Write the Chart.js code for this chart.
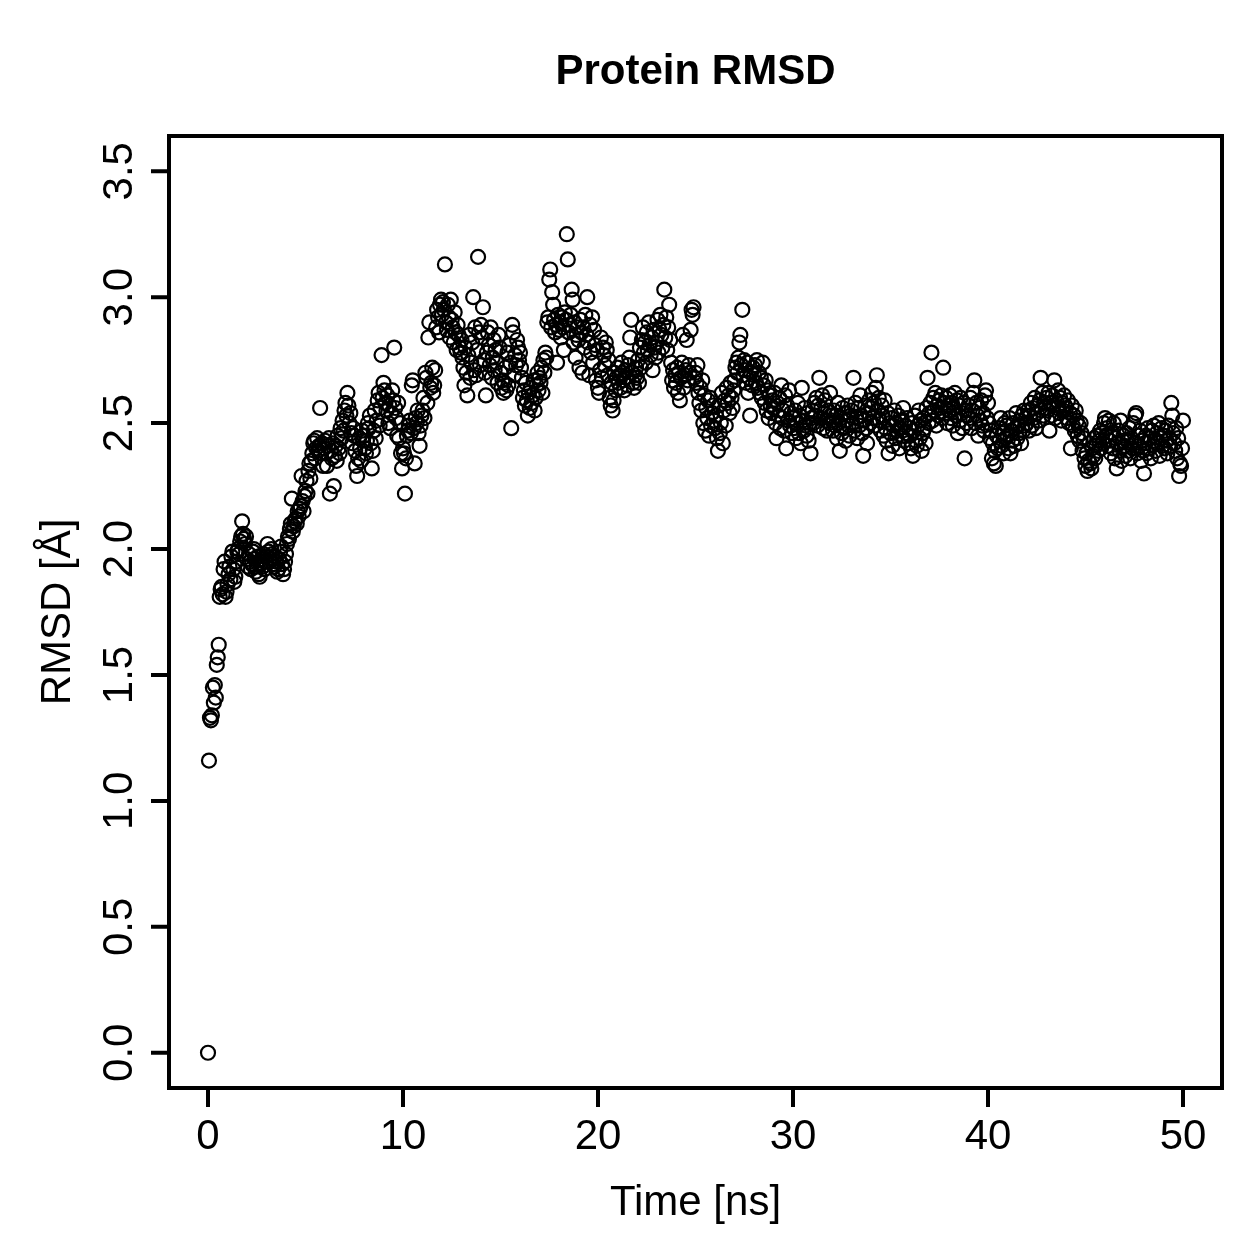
<!DOCTYPE html>
<html>
<head>
<meta charset="utf-8">
<title>Protein RMSD</title>
<script src="https://cdn.jsdelivr.net/npm/chart.js@4.4.0/dist/chart.umd.min.js"></script>
<style>
  html, body { margin: 0; padding: 0; background: #ffffff; }
  canvas { display: block; }
</style>
</head>
<body>
<canvas id="rmsd-chart" width="1259" height="1259"></canvas>
<script>
const chartTitle = "Protein RMSD";
const xTitle = "Time [ns]";
const yTitle = "RMSD [Å]";

const xTicks = [0, 10, 20, 30, 40, 50];
const xTickLabels = ["0", "10", "20", "30", "40", "50"];
const yTicks = [0, 0.5, 1, 1.5, 2, 2.5, 3, 3.5];
const yTickLabels = ["0.0", "0.5", "1.0", "1.5", "2.0", "2.5", "3.0", "3.5"];

// trajectory frames are saved every 0.05 ns
const frameStep = 0.05;

// RMSD per frame, one row per nanosecond
const rmsd = [
  0.00, 1.16, 1.33, 1.32, 1.34, 1.45, 1.39, 1.46, 1.41, 1.54, 1.57, 1.62, 1.81, 1.84, 1.85, 1.82, 1.92, 1.95, 1.81, 1.83,
  1.86, 1.90, 1.93, 1.88, 1.97, 1.99, 1.92, 1.87, 1.89, 1.95, 1.99, 2.00, 1.98, 2.03, 2.05, 2.11, 2.06, 2.04, 2.02, 2.05,
  1.96, 1.93, 1.98, 1.95, 1.92, 1.94, 1.99, 2.00, 1.96, 1.91, 1.93, 1.97, 1.90, 1.89, 1.94, 1.96, 1.93, 1.98, 1.92, 1.95,
  1.97, 2.02, 1.99, 1.95, 1.96, 2.00, 1.98, 1.94, 1.93, 1.97, 1.95, 1.91, 1.92, 1.96, 1.99, 2.01, 1.94, 1.90, 1.92, 1.95,
  1.98, 2.02, 2.05, 2.04, 2.08, 2.10, 2.20, 2.07, 2.09, 2.11, 2.12, 2.10, 2.15, 2.13, 2.16, 2.17, 2.29, 2.19, 2.15, 2.21,
  2.23, 2.27, 2.22, 2.31, 2.34, 2.28, 2.35, 2.38, 2.42, 2.43, 2.36, 2.40, 2.44, 2.39, 2.41, 2.56, 2.38, 2.42, 2.33, 2.40,
  2.43, 2.38, 2.33, 2.41, 2.44, 2.22, 2.39, 2.36, 2.42, 2.25, 2.37, 2.41, 2.35, 2.45, 2.40, 2.38, 2.48, 2.44, 2.51, 2.47,
  2.55, 2.58, 2.53, 2.62, 2.57, 2.50, 2.54, 2.46, 2.42, 2.48, 2.45, 2.39, 2.33, 2.29, 2.36, 2.44, 2.40, 2.35, 2.47, 2.43,
  2.45, 2.40, 2.38, 2.43, 2.50, 2.48, 2.53, 2.42, 2.32, 2.39, 2.47, 2.55, 2.44, 2.51, 2.59, 2.62, 2.49, 2.56, 2.77, 2.60,
  2.66, 2.63, 2.58, 2.55, 2.61, 2.50, 2.57, 2.48, 2.54, 2.63, 2.59, 2.80, 2.56, 2.52, 2.45, 2.58, 2.44, 2.50, 2.38, 2.32,
  2.40, 2.38, 2.22, 2.36, 2.45, 2.47, 2.49, 2.51, 2.46, 2.65, 2.67, 2.48, 2.34, 2.52, 2.50, 2.55, 2.46, 2.41, 2.49, 2.53,
  2.55, 2.60, 2.52, 2.70, 2.68, 2.58, 2.84, 2.90, 2.64, 2.66, 2.72, 2.62, 2.65, 2.71, 2.88, 2.95, 2.92, 2.86, 2.97, 2.99,
  2.93, 2.98, 2.95, 3.13, 2.90, 2.87, 2.97, 2.92, 2.84, 2.99, 2.91, 2.88, 2.82, 2.94, 2.86, 2.79, 2.89, 2.85, 2.80, 2.78,
  2.83, 2.76, 2.72, 2.65, 2.80, 2.70, 2.61, 2.77, 2.85, 2.68, 2.74, 2.82, 3.00, 2.71, 2.88, 2.69, 2.79, 3.16, 2.86, 2.73,
  2.89, 2.84, 2.96, 2.75, 2.70, 2.61, 2.78, 2.86, 2.81, 2.73, 2.88, 2.68, 2.76, 2.83, 2.71, 2.79, 2.74, 2.66, 2.85, 2.80,
  2.70, 2.64, 2.67, 2.62, 2.66, 2.72, 2.63, 2.78, 2.65, 2.81, 2.74, 2.48, 2.89, 2.86, 2.69, 2.77, 2.73, 2.83, 2.80, 2.75,
  2.78, 2.72, 2.68, 2.60, 2.63, 2.57, 2.66, 2.59, 2.53, 2.62, 2.56, 2.64, 2.58, 2.61, 2.67, 2.55, 2.60, 2.65, 2.70, 2.63,
  2.68, 2.66, 2.72, 2.62, 2.75, 2.70, 2.78, 2.76, 2.90, 2.92, 3.07, 3.11, 2.88, 3.02, 2.97, 2.91, 2.86, 2.89, 2.74, 2.93,
  2.87, 2.90, 2.84, 2.92, 2.88, 2.79, 2.94, 2.91, 3.25, 3.15, 2.86, 2.89, 2.93, 3.03, 2.99, 2.82, 2.90, 2.76, 2.85, 2.88,
  2.83, 2.72, 2.91, 2.86, 2.70, 2.88, 2.80, 2.93, 2.85, 3.00, 2.82, 2.69, 2.89, 2.78, 2.92, 2.74, 2.87, 2.81, 2.67, 2.79,
  2.64, 2.62, 2.71, 2.84, 2.68, 2.80, 2.77, 2.73, 2.82, 2.79, 2.69, 2.75, 2.60, 2.57, 2.66, 2.55, 2.59, 2.70, 2.63, 2.68,
  2.72, 2.66, 2.69, 2.64, 2.74, 2.70, 2.67, 2.63, 2.71, 2.68, 2.65, 2.73, 2.76, 2.84, 2.91, 2.70, 2.66, 2.64, 2.69, 2.72,
  2.68, 2.75, 2.66, 2.80, 2.72, 2.83, 2.88, 2.78, 2.82, 2.74, 2.86, 2.79, 2.90, 2.81, 2.77, 2.84, 2.71, 2.87, 2.80, 2.76,
  2.82, 2.91, 2.78, 2.87, 2.93, 2.85, 2.80, 2.89, 3.03, 2.84, 2.92, 2.79, 2.88, 2.97, 2.83, 2.74, 2.67, 2.71, 2.64, 2.69,
  2.66, 2.72, 2.62, 2.70, 2.59, 2.68, 2.74, 2.85, 2.64, 2.69, 2.71, 2.83, 2.67, 2.73, 2.70, 2.87, 2.95, 2.93, 2.96, 2.68,
  2.70, 2.66, 2.73, 2.62, 2.58, 2.64, 2.55, 2.67, 2.50, 2.61, 2.47, 2.56, 2.52, 2.59, 2.45, 2.60, 2.49, 2.54, 2.57, 2.51,
  2.48, 2.53, 2.44, 2.39, 2.57, 2.46, 2.50, 2.62, 2.42, 2.55, 2.59, 2.49, 2.64, 2.58, 2.61, 2.54, 2.66, 2.60, 2.56, 2.63,
  2.67, 2.72, 2.74, 2.70, 2.76, 2.82, 2.85, 2.73, 2.95, 2.69, 2.75, 2.71, 2.66, 2.74, 2.62, 2.68, 2.53, 2.70, 2.65, 2.72,
  2.69, 2.73, 2.66, 2.75, 2.64, 2.70, 2.62, 2.68, 2.60, 2.74, 2.65, 2.58, 2.67, 2.55, 2.63, 2.52, 2.61, 2.57, 2.54, 2.59,
  2.56, 2.62, 2.50, 2.44, 2.58, 2.53, 2.60, 2.48, 2.65, 2.52, 2.55, 2.47, 2.61, 2.40, 2.57, 2.51, 2.63, 2.49, 2.54, 2.46,
  2.52, 2.48, 2.55, 2.44, 2.50, 2.58, 2.46, 2.53, 2.42, 2.64, 2.51, 2.47, 2.56, 2.49, 2.45, 2.54, 2.43, 2.50, 2.38, 2.52,
  2.55, 2.50, 2.58, 2.53, 2.60, 2.49, 2.57, 2.68, 2.52, 2.56, 2.61, 2.48, 2.54, 2.59, 2.51, 2.47, 2.55, 2.50, 2.62, 2.53,
  2.51, 2.47, 2.55, 2.49, 2.53, 2.44, 2.58, 2.50, 2.39, 2.52, 2.46, 2.56, 2.48, 2.54, 2.43, 2.51, 2.57, 2.49, 2.45, 2.53,
  2.55, 2.50, 2.68, 2.47, 2.58, 2.52, 2.44, 2.56, 2.49, 2.61, 2.53, 2.46, 2.37, 2.51, 2.57, 2.48, 2.42, 2.54, 2.59, 2.50,
  2.56, 2.62, 2.52, 2.58, 2.49, 2.64, 2.69, 2.55, 2.60, 2.51, 2.47, 2.57, 2.53, 2.45, 2.59, 2.48, 2.43, 2.54, 2.38, 2.50,
  2.46, 2.52, 2.41, 2.49, 2.55, 2.44, 2.50, 2.47, 2.53, 2.40, 2.48, 2.51, 2.45, 2.56, 2.43, 2.49, 2.46, 2.52, 2.42, 2.48,
  2.45, 2.40, 2.50, 2.37, 2.47, 2.53, 2.43, 2.41, 2.49, 2.55, 2.44, 2.51, 2.39, 2.46, 2.52, 2.48, 2.42, 2.56, 2.68, 2.50,
  2.54, 2.58, 2.78, 2.51, 2.60, 2.55, 2.62, 2.49, 2.57, 2.53, 2.59, 2.56, 2.61, 2.52, 2.72, 2.58, 2.54, 2.60, 2.50, 2.57,
  2.55, 2.61, 2.52, 2.58, 2.49, 2.56, 2.62, 2.53, 2.59, 2.46, 2.57, 2.51, 2.60, 2.54, 2.48, 2.58, 2.36, 2.55, 2.50, 2.53,
  2.57, 2.52, 2.60, 2.48, 2.55, 2.62, 2.67, 2.50, 2.58, 2.53, 2.45, 2.56, 2.51, 2.59, 2.49, 2.54, 2.47, 2.61, 2.63, 2.52,
  2.58, 2.50, 2.44, 2.47, 2.36, 2.42, 2.34, 2.39, 2.33, 2.45, 2.40, 2.48, 2.43, 2.52, 2.41, 2.46, 2.38, 2.50, 2.44, 2.49,
  2.45, 2.40, 2.52, 2.38, 2.47, 2.43, 2.50, 2.41, 2.48, 2.54, 2.44, 2.49, 2.46, 2.51, 2.42, 2.53, 2.47, 2.55, 2.49, 2.52,
  2.50, 2.55, 2.47, 2.53, 2.58, 2.49, 2.56, 2.52, 2.60, 2.48, 2.54, 2.57, 2.51, 2.59, 2.68, 2.55, 2.62, 2.53, 2.58, 2.56,
  2.60, 2.55, 2.62, 2.47, 2.58, 2.53, 2.61, 2.57, 2.67, 2.52, 2.59, 2.56, 2.63, 2.54, 2.60, 2.51, 2.58, 2.55, 2.61, 2.57,
  2.56, 2.52, 2.59, 2.50, 2.54, 2.40, 2.57, 2.49, 2.53, 2.47, 2.55, 2.51, 2.45, 2.49, 2.43, 2.50, 2.46, 2.39, 2.44, 2.36,
  2.33, 2.38, 2.31, 2.35, 2.42, 2.34, 2.32, 2.40, 2.37, 2.44, 2.36, 2.41, 2.45, 2.39, 2.43, 2.47, 2.40, 2.46, 2.42, 2.50,
  2.52, 2.45, 2.48, 2.41, 2.51, 2.43, 2.38, 2.46, 2.40, 2.50, 2.36, 2.44, 2.32, 2.42, 2.47, 2.39, 2.51, 2.35, 2.43, 2.45,
  2.41, 2.37, 2.46, 2.43, 2.39, 2.48, 2.36, 2.44, 2.40, 2.50, 2.42, 2.53, 2.54, 2.38, 2.45, 2.41, 2.47, 2.35, 2.43, 2.39,
  2.30, 2.42, 2.45, 2.38, 2.48, 2.40, 2.44, 2.36, 2.47, 2.41, 2.49, 2.43, 2.39, 2.46, 2.42, 2.50, 2.37, 2.44, 2.48, 2.41,
  2.45, 2.40, 2.47, 2.43, 2.38, 2.49, 2.44, 2.41, 2.58, 2.53, 2.46, 2.42, 2.39, 2.48, 2.36, 2.44, 2.29, 2.34, 2.33, 2.40,
  2.51
];

const points = rmsd.map((v, i) => ({ x: i * frameStep, y: v }));

const FONT = '"Liberation Sans", Arial, Helvetica, sans-serif';

// base-R style frame: box, outward ticks, rotated y labels, titles
const rFrame = {
  id: "rFrame",
  afterDraw(chart) {
    const { ctx, chartArea: a } = chart;
    const xs = chart.scales.x;
    const ys = chart.scales.y;
    ctx.save();
    ctx.strokeStyle = "#000";
    ctx.fillStyle = "#000";
    ctx.lineWidth = 4;
    ctx.lineCap = "square";
    ctx.strokeRect(a.left, a.top, a.right - a.left, a.bottom - a.top);

    // x axis
    ctx.lineCap = "butt";
    ctx.beginPath();
    xTicks.forEach(t => {
      const px = xs.getPixelForValue(t);
      ctx.moveTo(px, a.bottom);
      ctx.lineTo(px, a.bottom + 19);
    });
    ctx.stroke();
    ctx.font = "42px " + FONT;
    ctx.textAlign = "center";
    ctx.textBaseline = "alphabetic";
    xTicks.forEach((t, i) => {
      ctx.fillText(xTickLabels[i], xs.getPixelForValue(t), 1149);
    });

    // y axis
    ctx.beginPath();
    yTicks.forEach(t => {
      const py = ys.getPixelForValue(t);
      ctx.moveTo(a.left, py);
      ctx.lineTo(a.left - 18, py);
    });
    ctx.stroke();
    yTicks.forEach((t, i) => {
      ctx.save();
      ctx.translate(132, ys.getPixelForValue(t));
      ctx.rotate(-Math.PI / 2);
      ctx.fillText(yTickLabels[i], 0, 0);
      ctx.restore();
    });

    // axis titles
    ctx.fillText(xTitle, (a.left + a.right) / 2, 1215);
    ctx.save();
    ctx.translate(70, (a.top + a.bottom) / 2);
    ctx.rotate(-Math.PI / 2);
    ctx.fillText(yTitle, 0, 0);
    ctx.restore();

    // main title
    ctx.font = "bold 42px " + FONT;
    ctx.fillText(chartTitle, (a.left + a.right) / 2, 84);
    ctx.restore();
  }
};

new Chart(document.getElementById("rmsd-chart"), {
  type: "scatter",
  data: {
    datasets: [
      {
        label: "RMSD",
        data: points,
        pointStyle: "circle",
        pointRadius: 7,
        pointHoverRadius: 7,
        pointBorderWidth: 2.2,
        pointBorderColor: "#000000",
        pointBackgroundColor: "rgba(0,0,0,0)",
        borderColor: "#000000",
        backgroundColor: "rgba(0,0,0,0)",
      },
    ],
  },
  options: {
    responsive: false,
    animation: false,
    devicePixelRatio: 1,
    layout: {
      padding: { left: 169, right: 37, top: 136, bottom: 171 },
    },
    scales: {
      x: { type: "linear", min: -2, max: 52, display: false },
      y: { type: "linear", min: -0.14, max: 3.64, display: false },
    },
    plugins: {
      legend: { display: false },
      tooltip: { enabled: false },
      title: { display: false },
    },
  },
  plugins: [rFrame],
});
</script>
</body>
</html>
